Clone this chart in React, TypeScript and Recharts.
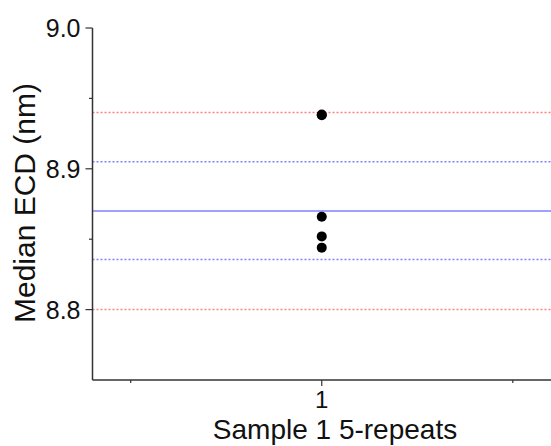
import React from 'react';
import { ScatterChart, Scatter, XAxis, YAxis, ReferenceLine } from 'recharts';

// five repeats of sample 1 (two sit on top of each other near 8.94)
const repeats = [8.9385, 8.938, 8.866, 8.852, 8.844];
const sampleX = [1, 1, 1, 1, 1];

const yTicks = [8.8, 8.85, 8.9, 8.95, 9.0];
const yMajor = [8.8, 8.9, 9.0];
const xTicks = [0.5, 1, 1.5];
const xMajor = [1];

const redLimits = [8.94, 8.8];
const blueLimits = [8.905, 8.8355];
const meanLine = 8.87;

const FONT = '"Liberation Sans", Arial, sans-serif';
const AXIS = '#333';

const points = repeats.map((y, i) => ({ x: sampleX[i], y }));

const YTick = (props: any) => {
  const { x, y, payload } = props;
  const major = yMajor.some(v => Math.abs(v - payload.value) < 1e-6);
  return (
    <g>
      <line x1={x - (major ? 7 : 3.5)} x2={x} y1={y} y2={y} stroke={AXIS} strokeWidth={1.2} />
      {major && (
        <text x={x - 12} y={y} dy="0.36em" textAnchor="end" fontSize={25} fontFamily={FONT} fill="#111">
          {payload.value.toFixed(1)}
        </text>
      )}
    </g>
  );
};

const XTick = (props: any) => {
  const { x, y, payload } = props;
  const major = xMajor.includes(payload.value);
  return (
    <g>
      <line x1={x} x2={x} y1={y} y2={y + (major ? 6 : 3)} stroke={AXIS} strokeWidth={1.2} />
      {major && (
        <text x={x} y={y + 28} textAnchor="middle" fontSize={24} fontFamily={FONT} fill="#111">
          {payload.value}
        </text>
      )}
    </g>
  );
};

const Dot = (props: any) => <circle cx={props.cx} cy={props.cy} r={5} fill="#000" />;

export default function App() {
  return (
    <div style={{ position: 'absolute', left: 0, top: 0, background: '#fff' }}>
      <ScatterChart width={551} height={446} margin={{ top: 28, right: 0, left: 0, bottom: 0 }}>
        <XAxis
          type="number"
          dataKey="x"
          domain={[0.4, 1.6]}
          ticks={xTicks}
          interval={0}
          tickSize={0}
          tickMargin={0}
          tickLine={false}
          tick={<XTick />}
          height={66}
          axisLine={{ stroke: AXIS, strokeWidth: 1.5 }}
          label={{
            content: () => (
              <text x={335} y={439} textAnchor="middle" fontSize={28} fontFamily={FONT} fill="#111">
                Sample 1 5-repeats
              </text>
            ),
          }}
        />
        <YAxis
          type="number"
          dataKey="y"
          domain={[8.75, 9.0]}
          ticks={yTicks}
          interval={0}
          tickSize={0}
          tickMargin={0}
          tickLine={false}
          tick={<YTick />}
          width={92.5}
          axisLine={{ stroke: AXIS, strokeWidth: 1.5 }}
          label={{
            content: () => (
              <text
                x={35}
                y={203}
                transform="rotate(-90 35 203)"
                textAnchor="middle"
                fontSize={30}
                fontFamily={FONT}
                fill="#111"
              >
                Median ECD (nm)
              </text>
            ),
          }}
        />
        {redLimits.map(v => (
          <ReferenceLine key={'r' + v} y={v} stroke="#ff8080" strokeDasharray="2 2" strokeWidth={1.5} />
        ))}
        {blueLimits.map(v => (
          <ReferenceLine key={'b' + v} y={v} stroke="#8080ff" strokeDasharray="2 2" strokeWidth={1.5} />
        ))}
        <ReferenceLine y={meanLine} stroke="#8080ff" strokeWidth={1.5} />
        <Scatter data={points} shape={<Dot />} isAnimationActive={false} />
      </ScatterChart>
    </div>
  );
}
